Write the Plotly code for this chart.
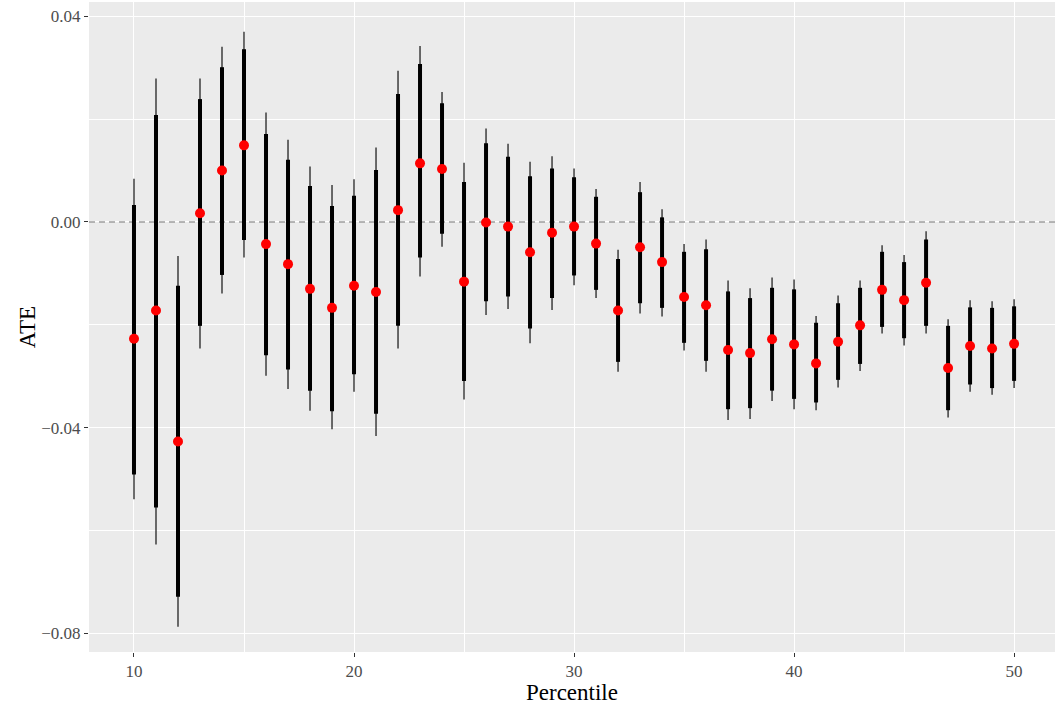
import plotly.graph_objects as go

percentile = list(range(10, 51))
estimate = [-0.0227, -0.0172, -0.0427, 0.0017, 0.0100, 0.0149, -0.0043, -0.0082, -0.0130, -0.0167,
            -0.0124, -0.0136, 0.0023, 0.0114, 0.0103, -0.0116, -0.0001, -0.0009, -0.0059, -0.0021,
            -0.0009, -0.0042, -0.0172, -0.0049, -0.0078, -0.0146, -0.0162, -0.0249, -0.0255, -0.0228,
            -0.0238, -0.0275, -0.0233, -0.0201, -0.0132, -0.0152, -0.0118, -0.0284, -0.0241, -0.0246,
            -0.0237]
upper_90 = [0.0033, 0.0208, -0.0124, 0.0239, 0.0301, 0.0336, 0.0171, 0.0121, 0.0070, 0.0031,
            0.0051, 0.0101, 0.0249, 0.0307, 0.0231, 0.0078, 0.0153, 0.0127, 0.0089, 0.0104,
            0.0087, 0.0049, -0.0072, 0.0058, 0.0009, -0.0058, -0.0053, -0.0135, -0.0148, -0.0128,
            -0.0131, -0.0196, -0.0158, -0.0128, -0.0058, -0.0078, -0.0034, -0.0202, -0.0166, -0.0167,
            -0.0164]
lower_90 = [-0.0491, -0.0555, -0.0729, -0.0202, -0.0103, -0.0035, -0.0259, -0.0287, -0.0328, -0.0368,
            -0.0296, -0.0373, -0.0202, -0.0069, -0.0023, -0.0309, -0.0154, -0.0145, -0.0207, -0.0148,
            -0.0104, -0.0132, -0.0272, -0.0158, -0.0167, -0.0235, -0.0270, -0.0364, -0.0362, -0.0328,
            -0.0344, -0.0351, -0.0307, -0.0276, -0.0204, -0.0226, -0.0202, -0.0366, -0.0316, -0.0323,
            -0.0309]
upper_95 = [0.0084, 0.0279, -0.0066, 0.0279, 0.0341, 0.0370, 0.0213, 0.0160, 0.0108, 0.0072,
            0.0083, 0.0145, 0.0294, 0.0342, 0.0253, 0.0115, 0.0182, 0.0152, 0.0117, 0.0128,
            0.0104, 0.0064, -0.0054, 0.0078, 0.0025, -0.0043, -0.0034, -0.0114, -0.0129, -0.0108,
            -0.0112, -0.0183, -0.0143, -0.0114, -0.0045, -0.0064, -0.0018, -0.0189, -0.0152, -0.0154,
            -0.0150]
lower_95 = [-0.0539, -0.0627, -0.0787, -0.0246, -0.0139, -0.0069, -0.0299, -0.0325, -0.0367, -0.0403,
            -0.0330, -0.0416, -0.0246, -0.0106, -0.0048, -0.0345, -0.0181, -0.0169, -0.0236, -0.0171,
            -0.0123, -0.0148, -0.0291, -0.0178, -0.0184, -0.0250, -0.0291, -0.0385, -0.0383, -0.0348,
            -0.0364, -0.0366, -0.0322, -0.0290, -0.0217, -0.0240, -0.0217, -0.0380, -0.0330, -0.0336,
            -0.0323]

x_ticks = [10, 20, 30, 40, 50]
x_minor = [15, 25, 35, 45]
y_ticks = [0.04, 0.0, -0.04, -0.08]
y_tick_text = ["0.04", "0.00", "\u22120.04", "\u22120.08"]
y_minor = [0.02, -0.02, -0.06]


def segs(lo, hi):
    xs, ys = [], []
    for p, a, b in zip(percentile, lo, hi):
        xs += [p, p, None]
        ys += [a, b, None]
    return xs, ys


fig = go.Figure()

fig.add_trace(go.Scatter(x=[7.955, 51.86], y=[0, 0], mode="lines",
                         line=dict(color="#9E9E9E", width=1.7, dash="6px,4px"),
                         hoverinfo="skip", showlegend=False))
x95, y95 = segs(lower_95, upper_95)
fig.add_trace(go.Scatter(x=x95, y=y95, mode="lines",
                         line=dict(color="#111111", width=1.2), hoverinfo="skip", showlegend=False))
x90, y90 = segs(lower_90, upper_90)
fig.add_trace(go.Scatter(x=x90, y=y90, mode="lines",
                         line=dict(color="black", width=4), hoverinfo="skip", showlegend=False))
fig.add_trace(go.Scatter(x=percentile, y=estimate, mode="markers",
                         marker=dict(color="#FF0000", size=10, line=dict(width=0)),
                         showlegend=False))

serif = "Liberation Serif, Times New Roman, serif"
tick_font = dict(family=serif, size=17, color="#4D4D4D")
title_font = dict(family=serif, size=23, color="black")

fig.update_layout(
    width=1055, height=706,
    margin=dict(l=89, r=0, t=2, b=54),
    paper_bgcolor="white",
    plot_bgcolor="#EBEBEB",
    showlegend=False,
    xaxis=dict(
        range=[7.955, 51.86], tickvals=x_ticks, ticktext=[str(v) for v in x_ticks],
        showgrid=True, gridcolor="white", gridwidth=1.1, zeroline=False,
        ticks="outside", ticklen=4, tickcolor="#333333", tickwidth=1,
        tickfont=tick_font, showline=False, automargin=False,
        minor=dict(tickvals=x_minor, showgrid=True, gridcolor="white", gridwidth=0.5, ticks=""),
    ),
    yaxis=dict(
        range=[-0.08362, 0.04278], tickvals=y_ticks, ticktext=y_tick_text,
        showgrid=True, gridcolor="white", gridwidth=1.1, zeroline=False,
        ticks="outside", ticklen=4, tickcolor="#333333", tickwidth=1,
        tickfont=tick_font, showline=False, automargin=False,
        minor=dict(tickvals=y_minor, showgrid=True, gridcolor="white", gridwidth=0.5, ticks=""),
    ),
    annotations=[
        dict(text="Percentile", xref="paper", yref="paper", x=0.5, y=-0.040,
             xanchor="center", yanchor="top", showarrow=False, font=title_font),
        dict(text="ATE", xref="paper", yref="paper", x=-0.064, y=0.5,
             xanchor="center", yanchor="middle", showarrow=False, textangle=-90, font=title_font),
    ],
)

fig.write_html("out.html", config={"displayModeBar": False},
               post_script="document.body.style.margin='0';document.body.style.overflow='hidden';")
